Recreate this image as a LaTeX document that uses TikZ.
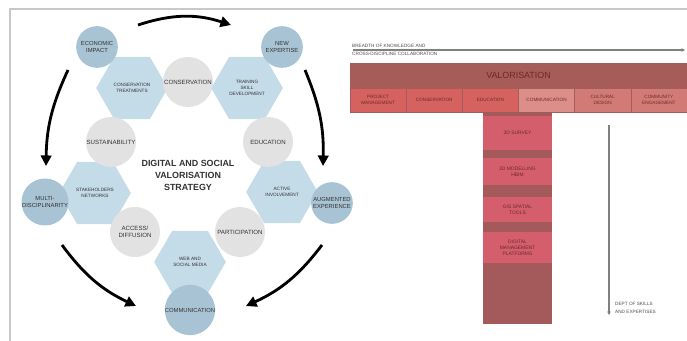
\documentclass[tikz,border=0pt]{standalone}
\usepackage{fontspec}
\setmainfont{Liberation Sans}
\usetikzlibrary{shapes.geometric,arrows.meta}
\definecolor{outerblue}{HTML}{A8C3D3}
\definecolor{hexblue}{HTML}{C4DBE8}
\definecolor{innergrey}{HTML}{E2E2E2}
\definecolor{framegrey}{HTML}{C8C8C8}
\definecolor{valdark}{HTML}{A65C58}
\definecolor{rowred}{HTML}{D6625F}
\definecolor{rowpale}{HTML}{DC8E8A}
\definecolor{rowmid}{HTML}{D27B76}
\definecolor{stemdark}{HTML}{A45A5A}
\definecolor{stempink}{HTML}{D55E6C}
\definecolor{textred}{HTML}{6A2A2A}

\begin{document}
\begin{tikzpicture}
  [x=0.03cm,y=-0.03cm,
   every node/.style={align=center,text=black!80,inner sep=0pt},
   inner/.style={circle,fill=innergrey,minimum size=1.5cm,font=\fontsize{5.2}{6}\selectfont},
   outer/.style={circle,fill=outerblue,minimum size=1.25cm,font=\fontsize{5}{5.8}\selectfont},
   hex/.style={regular polygon,regular polygon sides=6,fill=hexblue,minimum size=2.15cm,font=\fontsize{4}{4.8}\selectfont},
   bigarrow/.style={line width=2.4pt,-{Triangle[length=9pt,width=9pt]}},
   rowcell/.style={rectangle,draw=valdark,line width=0.4pt,minimum width=1.685cm,minimum height=0.72cm,text=textred,font=\fontsize{4}{4.8}\selectfont},
   stemcell/.style={rectangle,fill=stempink,minimum width=2.07cm,text=textred,font=\fontsize{4.2}{5}\selectfont},
   axis/.style={draw=black!50,line width=1pt,-{Stealth[length=3pt,width=3pt]}},
   axislabel/.style={text=black!70,align=left,font=\fontsize{4}{7}\selectfont}]
  \useasboundingbox (0,0) rectangle (687,341);

  % frame
  \draw[framegrey,line width=1pt] (10,341) -- (10,9) -- (687,9);

  % blue links
  \node[hex] (hCT) at (132,88)  {CONSERVATION\\TREATMENTS};
  \node[hex] (hTS) at (247,88)  {TRAINING\\SKILL\\DEVELOPMENT};
  \node[hex] (hAI) at (282,192) {ACTIVE\\INVOLVEMENT};
  \node[hex] (hWS) at (190,262) {WEB AND\\SOCIAL MEDIA};
  \node[hex] (hSN) at (95,193)  {STAKEHOLDERS\\NETWORKS};

  % pentagon of goals
  \node[inner] (cons) at (188,82)  {CONSERVATION};
  \node[inner] (educ) at (268,142) {EDUCATION};
  \node[inner] (part) at (240,232) {PARTICIPATION};
  \node[inner] (acc)  at (135,232) {ACCESS/\\DIFFUSION};
  \node[inner] (sust) at (111,142) {SUSTAINABILITY};

  % outcomes
  \node[outer] (ecoimp) at (97,47)   {ECONOMIC\\IMPACT};
  \node[outer] (newexp) at (282,47)  {NEW\\EXPERTISE};
  \node[outer] (multi)  at (45,202)  {MULTI-\\DISCIPLINARITY};
  \node[outer] (augexp) at (332,203) {AUGMENTED\\EXPERIENCE};
  \node[outer] (comm)   at (190,310) {COMMUNICATION};

  \node[font=\bfseries\fontsize{7.6}{10.2}\selectfont] (title) at (188,175)
  {DIGITAL AND SOCIAL\\VALORISATION\\STRATEGY};

  % cycle arrows
  \coordinate (a1s) at (138,25);  \coordinate (a1e) at (231,25);
  \coordinate (a2s) at (305,70);  \coordinate (a2e) at (323,166);
  \coordinate (a3s) at (322,245); \coordinate (a3e) at (246,306);
  \coordinate (a4s) at (62,245);  \coordinate (a4e) at (136,306);
  \coordinate (a5s) at (68,70);   \coordinate (a5e) at (46,166);
  \draw[bigarrow] (a1s) to[bend left=18] (a1e);
  \draw[bigarrow] (a2s) to[bend left=12] (a2e);
  \draw[bigarrow] (a3s) to[bend left=14] (a3e);
  \draw[bigarrow] (a4s) to[bend right=14] (a4e);
  \draw[bigarrow] (a5s) to[bend right=12] (a5e);

  % T of competences
  \node[rectangle,fill=valdark,minimum width=10.11cm,minimum height=0.75cm,
  text=textred,font=\fontsize{7.6}{9}\selectfont] (val) at (518.5,75.5) {VALORISATION};
  \node[rowcell,fill=rowred]  (r1) at (378.1,100) {PROJECT\\MANAGEMENT};
  \node[rowcell,fill=rowred]  (r2) at (434.2,100) {CONSERVATION};
  \node[rowcell,fill=rowred]  (r3) at (490.4,100) {EDUCATION};
  \node[rowcell,fill=rowpale] (r4) at (546.6,100) {COMMUNICATION};
  \node[rowcell,fill=rowmid]  (r5) at (602.7,100) {CULTURAL\\DESIGN};
  \node[rowcell,fill=rowmid]  (r6) at (658.9,100) {COMMUNITY\\ENGAGEMENT};

  \fill[stemdark] (483,112) rectangle (552,324);
  \node[stemcell,minimum height=1.02cm] (s1) at (517.5,133) {3D SURVEY};
  \node[stemcell,minimum height=0.81cm] (s2) at (517.5,171.5) {3D MODELLING\\HBIM};
  \node[stemcell,minimum height=0.75cm] (s3) at (517.5,209.5) {GIS SPATIAL\\TOOLS};
  \node[stemcell,minimum height=0.93cm] (s4) at (517.5,247.5) {DIGITAL\\MANAGEMENT\\PLATFORMS};

  % axes
  \coordinate (bs) at (353,50);  \coordinate (be) at (685,50);
  \coordinate (ds) at (609,125); \coordinate (de) at (609,315);
  \draw[axis] (bs) -- (be);
  \draw[axis] (ds) -- (de);
  \node[axislabel,anchor=west] (breadth) at (352,49.5)
  {BREADTH OF KNOWLEDGE AND\\CROSS-DISCIPLINE COLLABORATION};
  \node[axislabel,anchor=west] (depth) at (615,308)
  {DEPT OF SKILLS\\AND EXPERTISES};
\end{tikzpicture}
\end{document}
